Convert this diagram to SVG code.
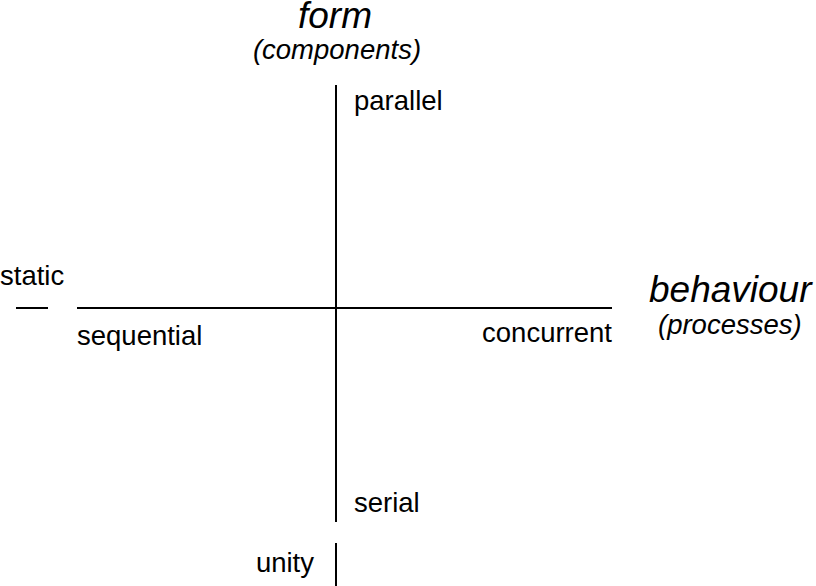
<svg xmlns="http://www.w3.org/2000/svg" width="816" height="586" viewBox="0 0 816 586">
<style>
text{font-family:"Liberation Sans",Arial,sans-serif;font-size:27.5px;fill:#000}
.i{font-style:italic}
.big{font-size:37px}
line{stroke:#000;stroke-width:2}
</style>
<rect width="816" height="586" fill="#fff"/>
<g id="axes">
<line x1="336" y1="85" x2="336" y2="522"/>
<line x1="336" y1="543" x2="336" y2="586"/>
<line x1="77" y1="308" x2="612" y2="308"/>
<line x1="16" y1="308" x2="48" y2="308"/>
</g>
<g id="form-label">
<text class="i big" x="335" y="28" text-anchor="middle">form</text>
<text class="i" x="337" y="59" text-anchor="middle">(components)</text>
</g>
<g id="behaviour-label">
<text class="i big" x="649" y="302">behaviour</text>
<text class="i" x="658" y="334">(processes)</text>
</g>
<g id="parallel"><text x="354" y="110">parallel</text></g>
<g id="serial"><text x="354" y="512">serial</text></g>
<g id="static"><text x="0" y="285">static</text></g>
<g id="sequential"><text x="77" y="345">sequential</text></g>
<g id="concurrent"><text x="612" y="342" text-anchor="end">concurrent</text></g>
<g id="unity"><text x="314" y="572" text-anchor="end">unity</text></g>
</svg>
